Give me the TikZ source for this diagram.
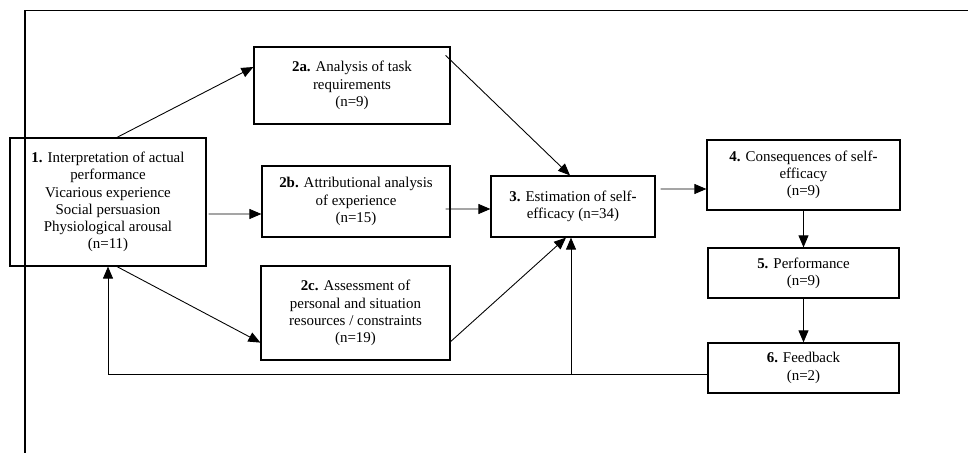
\documentclass[tikz,border=0pt]{standalone}
\usepackage{fontspec}
\setmainfont{Liberation Serif}
\usetikzlibrary{arrows.meta}

\begin{document}
\begin{tikzpicture}[x=0.02cm, y=-0.02cm, node distance=1.96cm, >={Triangle[length=2.4mm,width=2mm]}, block/.style={rectangle, draw, line width=0.7pt, align=center, inner sep=1pt, font=\fontsize{8.5}{9.8}\selectfont}, link/.style={->, line width=0.5pt}]

    \useasboundingbox (0,0) rectangle (968,453);
    \draw[line width=0.8pt] (968,10.5) -- (25,10.5) -- (25,453);

    \node[block, minimum width=3.92cm, minimum height=2.56cm] (interp) at (108,202) {\textbf{1.} Interpretation of actual\\performance\\Vicarious experience\\Social persuasion\\Physiological arousal\\(n=11)};
    \node[block, minimum width=3.92cm, minimum height=1.54cm] (task) at (352,85.5) {\textbf{2a.} Analysis of task\\requirements\\(n=9)};
    \node[block, minimum width=3.76cm, minimum height=1.42cm] (attr) at (356,201.5) {\textbf{2b.} Attributional analysis\\of experience\\(n=15)};
    \node[block, minimum width=3.78cm, minimum height=1.88cm] (assess) at (355.5,313) {\textbf{2c.} Assessment of\\personal and situation\\resources / constraints\\(n=19)};
    \node[block, minimum width=3.28cm, minimum height=1.22cm] (est) at (573,206.5) {\textbf{3.} Estimation of self\textbf{-}\\efficacy (n=34)};
    \node[block, minimum width=3.86cm, minimum height=1.4cm] (cons) at (803.5,175) {\textbf{4.} Consequences of self\textbf{-}\\efficacy\\(n=9)};
    \node[block, minimum width=3.82cm, minimum height=1cm, below of=cons] (perf) {\textbf{5.} Performance\\(n=9)};
    \node[block, minimum width=3.82cm, minimum height=1cm, below of=perf, node distance=1.9cm] (feed) {\textbf{6.} Feedback\\(n=2)};

    \draw[link] ([xshift=0.18cm]interp.north) -- ([yshift=0.37cm]task.west);
    \draw[link] ([xshift=0.04cm,yshift=-0.24cm]interp.east) -- ([yshift=-0.25cm]attr.west);
    \draw[link] ([xshift=0.18cm]interp.south) -- ([yshift=0.36cm]assess.south west);
    \draw[link] ([xshift=-0.1cm,yshift=-0.18cm]task.north east) -- ([xshift=-0.06cm]est.north);
    \draw[link] ([xshift=-0.1cm,yshift=-0.15cm]attr.east) -- ([yshift=-0.05cm]est.west);
    \draw[link] ([yshift=0.38cm]assess.south east) -- ([xshift=-0.14cm]est.south);
    \draw[link] ([xshift=0.1cm,yshift=0.35cm]est.east) -- ([yshift=-0.28cm]cons.west);
    \draw[link] (cons.south) -- (cons.south |- perf.north);
    \draw[link] (perf.south) -- (perf.south |- feed.north);
    \draw[link] ([yshift=-0.12cm]feed.west) coordinate (fb) -| (interp.south);
    \draw[link] ([xshift=-0.04cm]est.south |- fb) -- ([xshift=-0.04cm]est.south);

\end{tikzpicture}
\end{document}
